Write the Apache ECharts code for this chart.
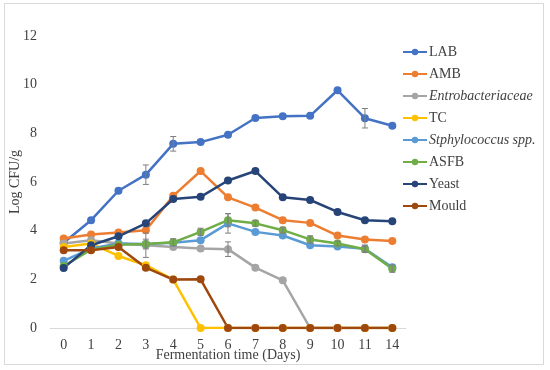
<!DOCTYPE html>
<html>
<head>
<meta charset="utf-8">
<script src="https://cdn.jsdelivr.net/npm/echarts@6/dist/echarts.min.js"></script>
<style>html,body{margin:0;padding:0;background:#fff}#c{width:550px;height:370px}</style>
</head>
<body>
<div id="c"></div>
<script>
const days = ['0','1','2','3','4','5','6','7','8','9','10','11','14'];
const seriesNames = ['LAB','AMB','Entrobacteriaceae','TC','Stphylococcus spp.','ASFB','Yeast','Mould'];
const LAB   = [3.50,4.43,5.64,6.30,7.57,7.64,7.94,8.63,8.70,8.72,9.77,8.62,8.31];
const AMB   = [3.68,3.84,3.92,4.02,5.43,6.45,5.37,4.95,4.43,4.32,3.80,3.64,3.58];
const ENTRO = [3.47,3.61,3.47,3.40,3.33,3.27,3.24,2.48,1.96,0,0,0,0];
const TC    = [3.33,3.47,2.96,2.58,1.99,0,0,0,0,0,0,0,0];
const STAPH = [2.76,3.27,3.47,3.45,3.50,3.61,4.30,3.95,3.80,3.40,3.35,3.26,2.50];
const ASFB  = [2.55,3.22,3.42,3.45,3.52,3.95,4.43,4.30,4.02,3.64,3.47,3.24,2.44];
const YEAST = [2.47,3.40,3.77,4.30,5.30,5.39,6.06,6.45,5.37,5.26,4.77,4.43,4.39];
const MOULD = [3.20,3.20,3.33,2.48,1.99,2.00,0,0,0,0,0,0,0];
// standard deviations for error bars (0 = none drawn)
const LAB_ERR   = [0,0,0,0.40,0.30,0,0,0,0,0,0,0.40,0];
const ENTRO_ERR = [0,0,0,0.50,0,0,0.30,0,0,0,0,0,0];
const STAPH_ERR = [0,0,0,0,0,0,0.40,0,0,0,0,0.15,0];
const ASFB_ERR  = [0,0,0,0.20,0.15,0.15,0.27,0.12,0.12,0.15,0.10,0.12,0.15];
const yTicks = [0,2,4,6,8,10,12];

const values = [LAB,AMB,ENTRO,TC,STAPH,ASFB,YEAST,MOULD];
const colors = ['#4472C4','#ED7D31','#A5A5A5','#FFC000','#5B9BD5','#70AD47','#264478','#9E480E'];
const errSets = [[LAB,LAB_ERR],[ENTRO,ENTRO_ERR],[STAPH,STAPH_ERR],[ASFB,ASFB_ERR]];

const FONT = '"Liberation Serif", "Times New Roman", serif';
const TXT = '#404040';

const series = values.map((v,i)=>({
  name: seriesNames[i],
  type: 'line',
  data: v,
  symbol: 'circle',
  symbolSize: 8,
  lineStyle: {width: 2.5, color: colors[i]},
  itemStyle: {color: colors[i]},
  animation: false,
  z: 3
}));

errSets.forEach(([vals,errs])=>{
  const data = [];
  vals.forEach((v,k)=>{ if(errs[k]>0) data.push([k, v-errs[k], v+errs[k]]); });
  series.push({
    type: 'custom',
    silent: true,
    animation: false,
    z: 4,
    data: data,
    encode: {x: 0, y: [1,2]},
    renderItem: function(params, api){
      const lo = api.coord([api.value(0), api.value(1)]);
      const hi = api.coord([api.value(0), api.value(2)]);
      const w = 3;
      const st = {stroke: '#7F7F7F', lineWidth: 1};
      return {type:'group', children:[
        {type:'line', shape:{x1:lo[0],y1:lo[1],x2:hi[0],y2:hi[1]}, style:st},
        {type:'line', shape:{x1:lo[0]-w,y1:lo[1],x2:lo[0]+w,y2:lo[1]}, style:st},
        {type:'line', shape:{x1:hi[0]-w,y1:hi[1],x2:hi[0]+w,y2:hi[1]}, style:st}
      ]};
    }
  });
});

const italicNames = {'Entrobacteriaceae':1,'Stphylococcus spp.':1};

const chart = echarts.init(document.getElementById('c'), null, {renderer:'canvas'});
chart.setOption({
  animation: false,
  backgroundColor: '#fff',
  textStyle: {fontFamily: FONT},
  color: colors,
  grid: {left: 50, right: 144, top: 36, bottom: 42, containLabel: false, outerBoundsMode: 'none'},
  xAxis: {
    type: 'category',
    data: days,
    boundaryGap: true,
    name: 'Fermentation time (Days)',
    nameLocation: 'middle',
    nameGap: 20,
    nameMoveOverlap: false,
    nameTextStyle: {fontFamily: FONT, fontSize: 14, color: TXT},
    axisLine: {show: true, lineStyle: {color: '#D9D9D9', width: 1}},
    axisTick: {show: false},
    axisLabel: {fontFamily: FONT, fontSize: 14, color: TXT, margin: 10}
  },
  yAxis: {
    type: 'value',
    min: 0, max: 12, interval: 2,
    name: 'Log CFU/g',
    nameLocation: 'middle',
    nameGap: 28,
    nameMoveOverlap: false,
    nameTextStyle: {fontFamily: FONT, fontSize: 14, color: TXT},
    axisLine: {show: false},
    axisTick: {show: false},
    splitLine: {show: false},
    axisLabel: {fontFamily: FONT, fontSize: 14, color: TXT, margin: 13,
      formatter: v => yTicks.indexOf(v) >= 0 ? String(v) : ''}
  },
  legend: {
    orient: 'vertical',
    left: 397,
    top: 40,
    itemWidth: 24,
    itemHeight: 8,
    itemGap: 8,
    data: seriesNames,
    formatter: n => italicNames[n] ? '{i|' + n + '}' : '{n|' + n + '}',
    textStyle: {
      fontFamily: FONT, fontSize: 14, color: TXT, padding: [0,0,0,-3],
      rich: {
        i: {fontFamily: FONT, fontSize: 14, color: TXT, fontStyle: 'italic'},
        n: {fontFamily: FONT, fontSize: 14, color: TXT}
      }
    }
  },
  graphic: [{
    type: 'rect', silent: true, z: -1,
    shape: {x: 4.5, y: 3.5, width: 539, height: 361},
    style: {fill: 'none', stroke: '#D9D9D9', lineWidth: 1}
  }],
  series: series
});
</script>
</body>
</html>
